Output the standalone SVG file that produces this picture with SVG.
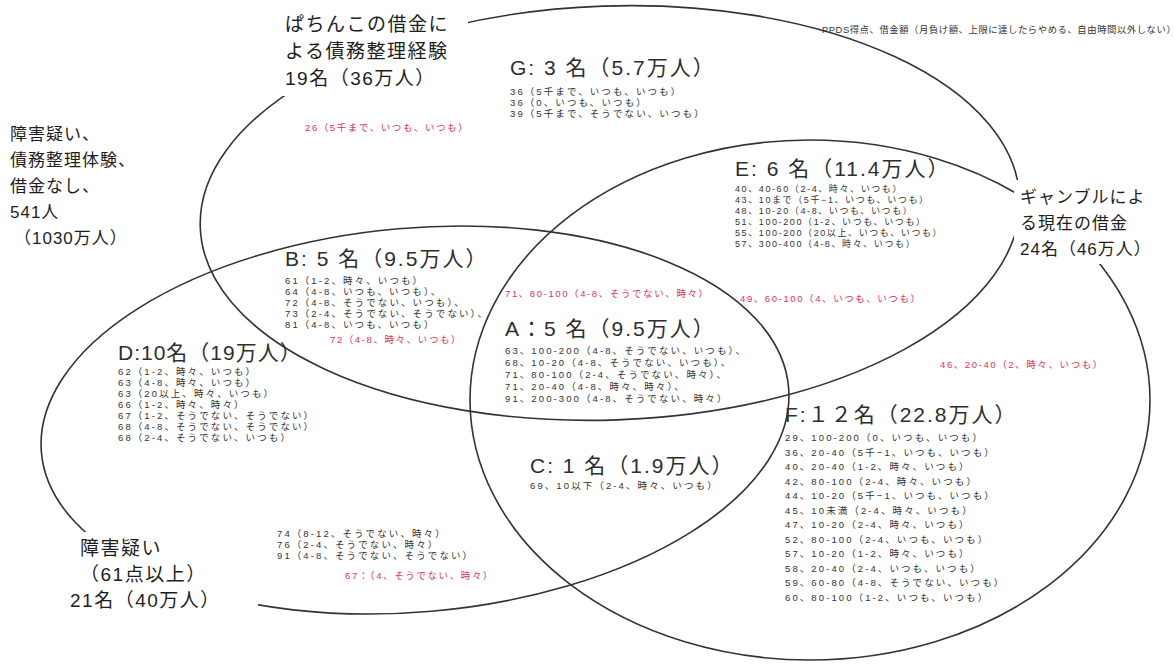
<svg xmlns="http://www.w3.org/2000/svg" width="1175" height="666" viewBox="0 0 1175 666">
<style>
text{font-family:"Liberation Sans","Noto Sans CJK JP","Noto Sans CJK SC",sans-serif;fill:#1e1e1e}
.lbl{font-size:19px;letter-spacing:1.5px}
.lbs{font-size:17px;letter-spacing:1px}
.ttl{font-size:21px;letter-spacing:2px;fill:#2e2e2e}
.sm{font-size:9.5px;letter-spacing:2.1px;fill:#333}
.sme{font-size:9px;letter-spacing:1.6px;fill:#333}
.red{font-size:9.5px;letter-spacing:1.6px;fill:#e0305f}
.hdr{font-size:9.3px;letter-spacing:0.6px;fill:#333}
.ring{fill:none;stroke:#333;stroke-width:1.6}
.box{fill:#fff;stroke:none}
</style>
<rect width="1175" height="666" fill="#fff"/>
<g id="connectors">
<ellipse id="ring-pachinko" class="ring" cx="610" cy="213" rx="410" ry="207" transform="rotate(-2 610 213)"/>
<ellipse id="ring-gamble" class="ring" cx="810" cy="400" rx="340" ry="260"/>
<ellipse id="ring-disability" class="ring" cx="415" cy="420" rx="375" ry="192" transform="rotate(-5 415 420)"/>
</g>
<g id="header"><text class="hdr" x="822" y="33">PPDS得点、借金額（月負け額、上限に達したらやめる、自由時間以外しない）</text></g>
<g id="label-pachinko">
<rect class="box" x="278" y="4" width="190" height="92"/>
<text class="lbl" x="285" y="31">ぱちんこの借金に</text>
<text class="lbl" x="285" y="58">よる債務整理経験</text>
<text class="lbl" x="285" y="85">19名（36万人）</text>
</g>
<g id="label-none">
<text class="lbs" x="10" y="140">障害疑い、</text>
<text class="lbs" x="10" y="166">債務整理体験、</text>
<text class="lbs" x="10" y="192">借金なし、</text>
<text class="lbs" x="10" y="218">541人</text>
<text class="lbs" x="14" y="244">（1030万人）</text>
</g>
<g id="label-gamble">
<rect class="box" x="1014" y="180" width="161" height="84"/>
<text class="lbs" x="1020" y="203">ギャンブルによ</text>
<text class="lbs" x="1020" y="229">る現在の借金</text>
<text class="lbs" x="1020" y="255">24名（46万人）</text>
</g>
<g id="label-disability">
<rect class="box" x="66" y="532" width="192" height="80"/>
<text class="lbl" x="80" y="555">障害疑い</text>
<text class="lbl" x="80" y="581">（61点以上）</text>
<text class="lbl" x="70" y="607">21名（40万人）</text>
</g>
<g id="node-G">
<text class="ttl" x="510" y="75">G: 3 名（5.7万人）</text>
<text class="sm" x="510" y="95">36（5千まで、いつも、いつも）</text>
<text class="sm" x="510" y="106">36（0、いつも、いつも）</text>
<text class="sm" x="510" y="117">39（5千まで、そうでない、いつも）</text>
<text class="red" x="305" y="131">26（5千まで、いつも、いつも）</text>
</g>
<g id="node-B">
<text class="ttl" x="285" y="266">B: 5 名（9.5万人）</text>
<text class="sm" x="285" y="284">61（1-2、時々、いつも）</text>
<text class="sm" x="285" y="295">64（4-8、いつも、いつも）、</text>
<text class="sm" x="285" y="306">72（4-8、そうでない、いつも）、</text>
<text class="sm" x="285" y="317">73（2-4、そうでない、そうでない）、</text>
<text class="sm" x="285" y="328">81（4-8、いつも、いつも）</text>
<text class="red" x="330" y="343">72（4-8、時々、いつも）</text>
</g>
<g id="node-E">
<text class="ttl" x="735" y="176">E: 6 名（11.4万人）</text>
<text class="sme" x="735" y="192">40、40-60（2-4、時々、いつも）</text>
<text class="sme" x="735" y="203">43、10まで（5千−1、いつも、いつも）</text>
<text class="sme" x="735" y="214">48、10-20（4-8、いつも、いつも）</text>
<text class="sme" x="735" y="225">51、100-200（1-2、いつも、いつも）</text>
<text class="sme" x="735" y="236">55、100-200（20以上、いつも、いつも）</text>
<text class="sme" x="735" y="247">57、300-400（4-8、時々、いつも）</text>
<text class="red" x="740" y="302">49、60-100（4、いつも、いつも）</text>
</g>
<g id="node-A">
<text class="red" x="505" y="297">71、80-100（4-8、そうでない、時々）</text>
<text class="ttl" x="505" y="336">A：5 名（9.5万人）</text>
<text class="sm" x="505" y="354">63、100-200（4-8、そうでない、いつも）、</text>
<text class="sm" x="505" y="366">68、10-20（4-8、そうでない、いつも）、</text>
<text class="sm" x="505" y="378">71、80-100（2-4、そうでない、時々）、</text>
<text class="sm" x="505" y="390">71、20-40（4-8、時々、時々）、</text>
<text class="sm" x="505" y="402">91、200-300（4-8、そうでない、時々）</text>
</g>
<g id="node-D">
<text class="ttl" x="118" y="360" style="letter-spacing:1px">D:10名（19万人）</text>
<text class="sm" x="118" y="375">62（1-2、時々、いつも）</text>
<text class="sm" x="118" y="386">63（4-8、時々、いつも）</text>
<text class="sm" x="118" y="397">63（20以上、時々、いつも）</text>
<text class="sm" x="118" y="408">66（1-2、時々、時々）</text>
<text class="sm" x="118" y="419">67（1-2、そうでない、そうでない）</text>
<text class="sm" x="118" y="430">68（4-8、そうでない、そうでない）</text>
<text class="sm" x="118" y="441">68（2-4、そうでない、いつも）</text>
<text class="sm" x="277" y="537">74（8-12、そうでない、時々）</text>
<text class="sm" x="277" y="548">76（2-4、そうでない、時々）</text>
<text class="sm" x="277" y="559">91（4-8、そうでない、そうでない）</text>
<text class="red" x="345" y="579">67：（4、そうでない、時々）</text>
</g>
<g id="node-C">
<text class="ttl" x="530" y="473">C: 1 名（1.9万人）</text>
<text class="sm" x="530" y="489">69、10以下（2-4、時々、いつも）</text>
</g>
<g id="node-F">
<text class="ttl" x="785" y="422">F:１２名（22.8万人）</text>
<text class="sm" x="785" y="441">29、100-200（0、いつも、いつも）</text>
<text class="sm" x="785" y="455.5">36、20-40（5千−1、いつも、いつも）</text>
<text class="sm" x="785" y="470">40、20-40（1-2、時々、いつも）</text>
<text class="sm" x="785" y="484.5">42、80-100（2-4、時々、いつも）</text>
<text class="sm" x="785" y="499">44、10-20（5千−1、いつも、いつも）</text>
<text class="sm" x="785" y="513.5">45、10未満（2-4、時々、いつも）</text>
<text class="sm" x="785" y="528">47、10-20（2-4、時々、いつも）</text>
<text class="sm" x="785" y="542.5">52、80-100（2-4、いつも、いつも）</text>
<text class="sm" x="785" y="557">57、10-20（1-2、時々、いつも）</text>
<text class="sm" x="785" y="571.5">58、20-40（2-4、いつも、いつも）</text>
<text class="sm" x="785" y="586">59、60-80（4-8、そうでない、いつも）</text>
<text class="sm" x="785" y="600.5">60、80-100（1-2、いつも、いつも）</text>
<text class="red" x="940" y="368">46、20-40（2、時々、いつも）</text>
</g>
</svg>
